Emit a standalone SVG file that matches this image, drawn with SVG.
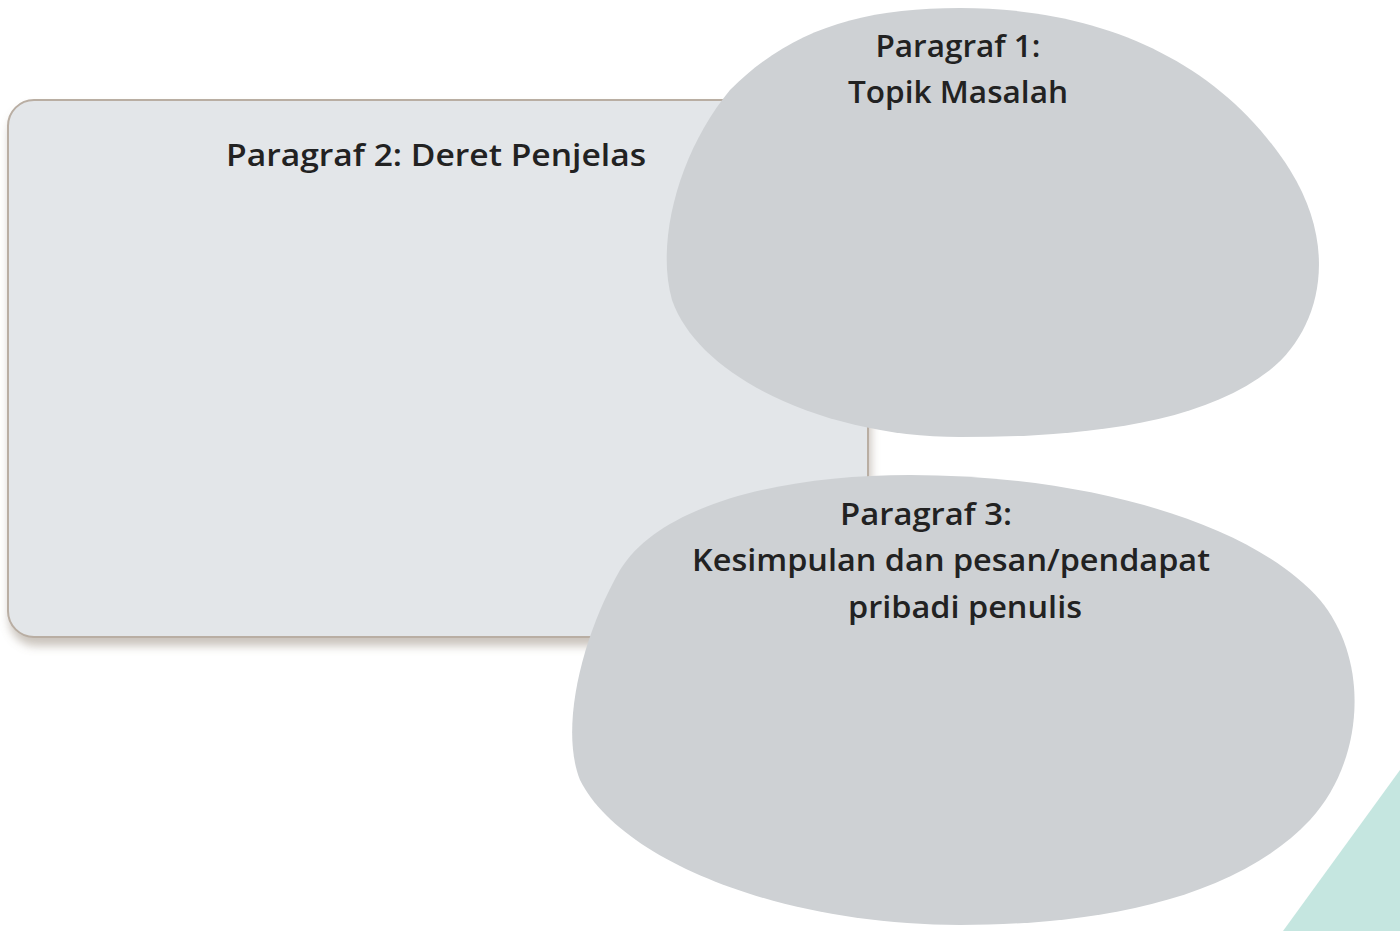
<svg xmlns="http://www.w3.org/2000/svg" width="1400" height="931" viewBox="0 0 1400 931">
<defs>
<style>
.lbl{font-family:"Open Sans","Liberation Sans",sans-serif;font-weight:600;fill:#222;text-anchor:middle}
.blob{fill:#ced1d4}
</style>
<filter id="sh" x="-5%" y="-5%" width="110%" height="115%">
<feDropShadow dx="2" dy="8" stdDeviation="5" flood-color="#8a7a6a" flood-opacity="0.45"/>
</filter>
</defs>
<rect width="1400" height="931" fill="#ffffff"/>
<polygon points="1400,770 1400,931 1283,931" fill="#c5e6e0"/>
<g id="node-paragraf2">
<rect x="8" y="100" width="860" height="537" rx="26" fill="#e3e6e9" stroke="#b9aea3" stroke-width="2" filter="url(#sh)"/>
<text class="lbl" x="436" y="166" font-size="31" textLength="420" lengthAdjust="spacingAndGlyphs">Paragraf  2: Deret Penjelas</text>
</g>
<g id="node-paragraf1">
<path class="blob" d="M960,8 C1100,8 1220,60 1290,170 C1340,250 1320,330 1270,370 C1200,425 1080,437 960,437 C830,437 700,380 672,300 C655,240 680,150 730,90 C790,30 860,8 960,8 Z"/>
<text class="lbl" x="958" y="57" font-size="30" textLength="165" lengthAdjust="spacingAndGlyphs">Paragraf 1:</text>
<text class="lbl" x="958" y="103" font-size="30" textLength="220" lengthAdjust="spacingAndGlyphs">Topik Masalah</text>
</g>
<g id="node-paragraf3">
<path class="blob" d="M910,475 C1080,475 1250,520 1320,600 C1370,660 1365,760 1310,820 C1230,905 1080,925 960,925 C780,925 620,860 580,780 C560,730 580,640 620,570 C660,505 780,475 910,475 Z"/>
<text class="lbl" x="926" y="525" font-size="31" textLength="172" lengthAdjust="spacingAndGlyphs">Paragraf 3:</text>
<text class="lbl" x="951" y="571" font-size="31" textLength="518" lengthAdjust="spacingAndGlyphs">Kesimpulan dan pesan/pendapat</text>
<text class="lbl" x="965" y="618" font-size="31" textLength="234" lengthAdjust="spacingAndGlyphs">pribadi penulis</text>
</g>
<g id="connectors"></g>
</svg>
